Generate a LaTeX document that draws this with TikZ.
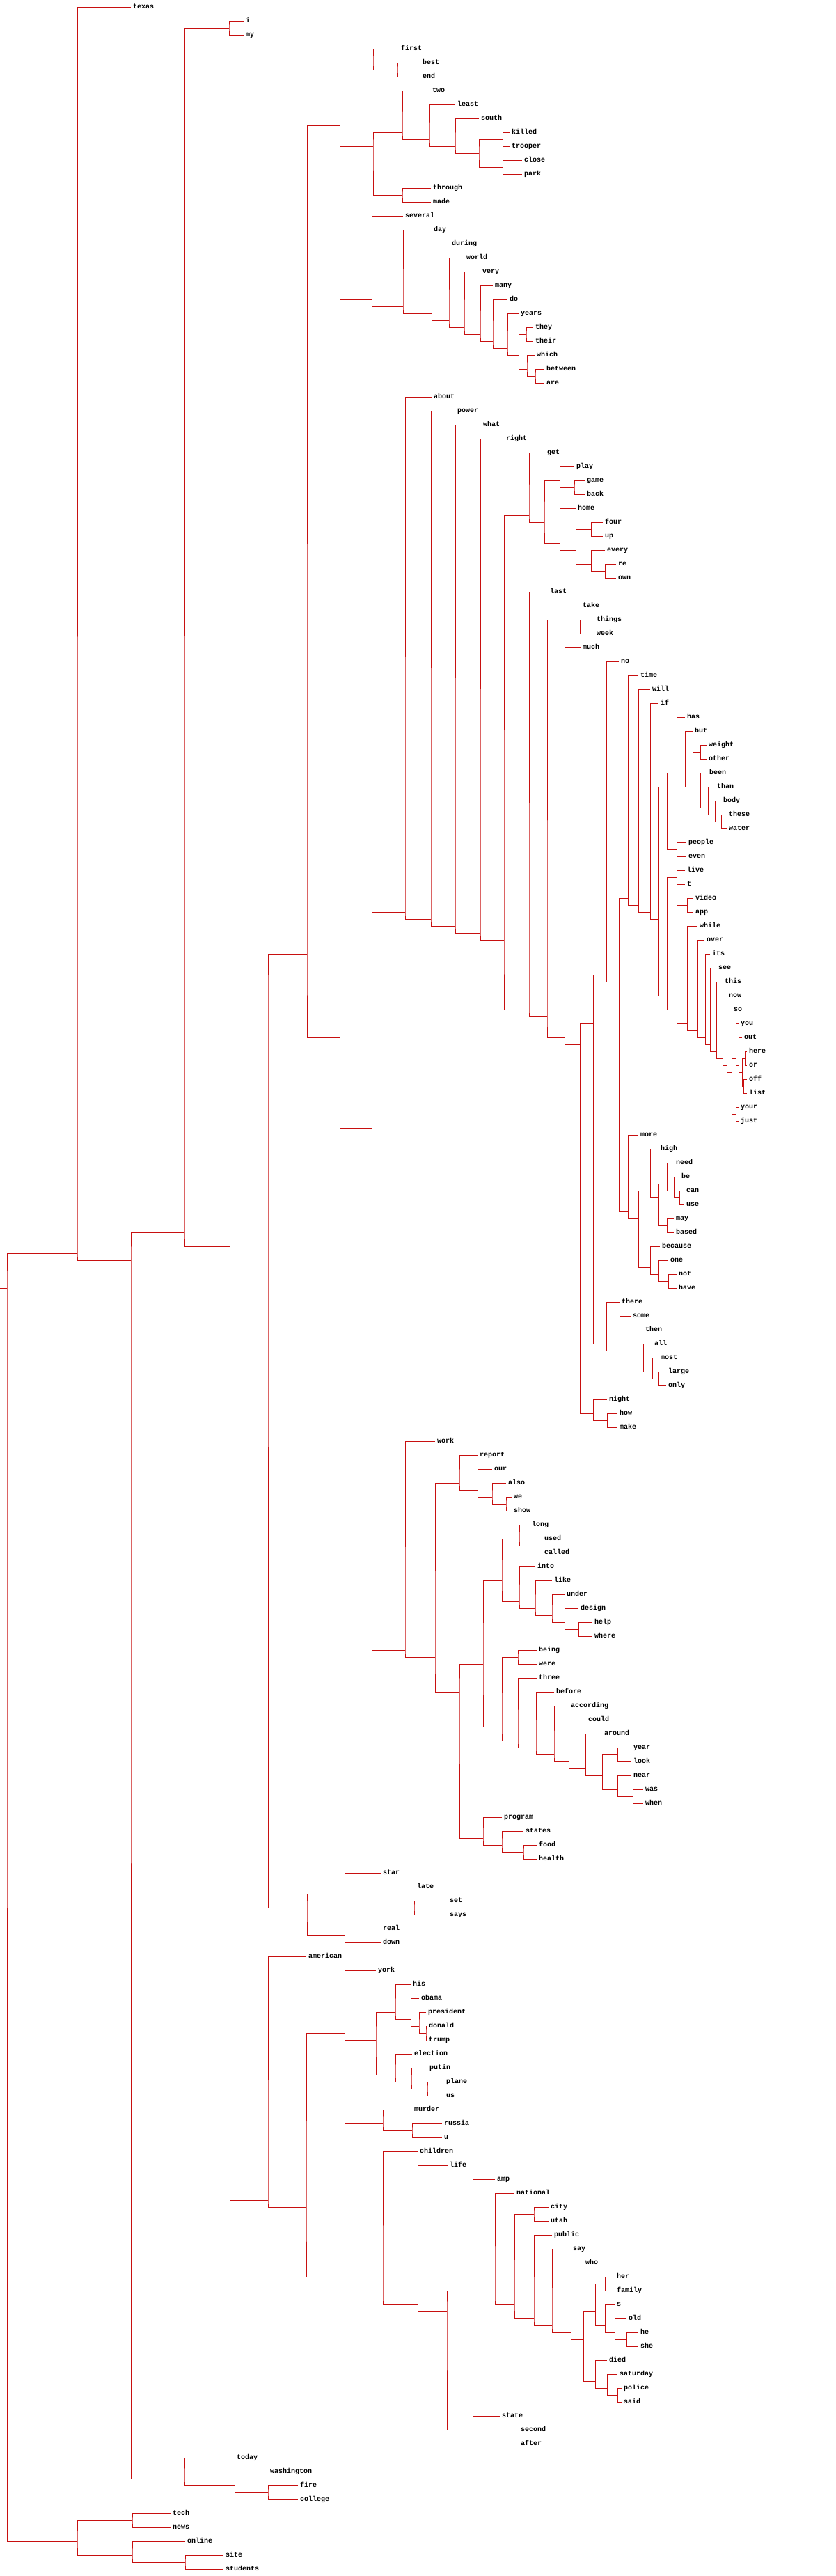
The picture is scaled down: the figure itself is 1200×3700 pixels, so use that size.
\documentclass[tikz,border=0pt]{standalone}
\usepackage{fontspec}
\setmonofont{Liberation Mono}
\usepackage{xcolor}
\definecolor{treered}{RGB}{200,16,16}
\tikzset{
  branch/.style={draw=treered, line width=1pt},
  word/.style={anchor=base west, inner xsep=3pt, inner ysep=0pt, yshift=-2.5pt,
    font=\ttfamily\bfseries\fontsize{10}{12}\selectfont}
}
\newcounter{leafno}
% leaf: word, end of its branch
\newcommand\leafword[2]{%
  \pgfmathtruncatemacro\leafy{10+20*\theleafno}%
  \coordinate (#1) at (#2,\leafy);
  \node[word] (w-#1) at (#1) {#1};
  \expandafter\xdef\csname tp@#1\endcsname{\leafy}%
  \expandafter\xdef\csname bt@#1\endcsname{\leafy}%
  \stepcounter{leafno}}
% merge: name, x of the bar, upper child, lower child
\newcommand\mergeat[4]{%
  \expandafter\xdef\csname tp@#1\endcsname{\csname tp@#3\endcsname}%
  \expandafter\xdef\csname bt@#1\endcsname{\csname bt@#4\endcsname}%
  \pgfmathsetmacro\mergey{(\csname tp@#3\endcsname+\csname bt@#4\endcsname)/2}%
  \coordinate (#1) at (#2,\mergey);
  \draw[branch] (#3) -| (#1) |- (#4);}

\begin{document}
\begin{tikzpicture}[x=1pt, y=-1pt]
    \useasboundingbox (0,0) rectangle (1200,3700);
    \coordinate (origin) at (0,0);
    % leaves, top to bottom
    \leafword{texas}{188}
    \leafword{i}{350}
    \leafword{my}{350}
    \leafword{first}{573}
    \leafword{best}{604}
    \leafword{end}{604}
    \leafword{two}{618}
    \leafword{least}{654}
    \leafword{south}{688}
    \leafword{killed}{732}
    \leafword{trooper}{732}
    \leafword{close}{750}
    \leafword{park}{750}
    \leafword{through}{619}
    \leafword{made}{619}
    \leafword{several}{579}
    \leafword{day}{620}
    \leafword{during}{646}
    \leafword{world}{667}
    \leafword{very}{690}
    \leafword{many}{708}
    \leafword{do}{729}
    \leafword{years}{745}
    \leafword{they}{766}
    \leafword{their}{766}
    \leafword{which}{768}
    \leafword{between}{782}
    \leafword{are}{782}
    \leafword{about}{620}
    \leafword{power}{654}
    \leafword{what}{691}
    \leafword{right}{724}
    \leafword{get}{783}
    \leafword{play}{825}
    \leafword{game}{840}
    \leafword{back}{840}
    \leafword{home}{827}
    \leafword{four}{866}
    \leafword{up}{866}
    \leafword{every}{869}
    \leafword{re}{885}
    \leafword{own}{885}
    \leafword{last}{787}
    \leafword{take}{834}
    \leafword{things}{854}
    \leafword{week}{854}
    \leafword{much}{834}
    \leafword{no}{889}
    \leafword{time}{917}
    \leafword{will}{934}
    \leafword{if}{946}
    \leafword{has}{984}
    \leafword{but}{995}
    \leafword{weight}{1015}
    \leafword{other}{1015}
    \leafword{been}{1016}
    \leafword{than}{1027}
    \leafword{body}{1036}
    \leafword{these}{1044}
    \leafword{water}{1044}
    \leafword{people}{986}
    \leafword{even}{986}
    \leafword{live}{984}
    \leafword{t}{984}
    \leafword{video}{996}
    \leafword{app}{996}
    \leafword{while}{1002}
    \leafword{over}{1012}
    \leafword{its}{1020}
    \leafword{see}{1029}
    \leafword{this}{1038}
    \leafword{now}{1044}
    \leafword{so}{1051}
    \leafword{you}{1061}
    \leafword{out}{1066}
    \leafword{here}{1073}
    \leafword{or}{1073}
    \leafword{off}{1073}
    \leafword{list}{1073}
    \leafword{your}{1061}
    \leafword{just}{1061}
    \leafword{more}{917}
    \leafword{high}{946}
    \leafword{need}{968}
    \leafword{be}{976}
    \leafword{can}{983}
    \leafword{use}{983}
    \leafword{may}{968}
    \leafword{based}{968}
    \leafword{because}{948}
    \leafword{one}{960}
    \leafword{not}{972}
    \leafword{have}{972}
    \leafword{there}{890}
    \leafword{some}{906}
    \leafword{then}{924}
    \leafword{all}{937}
    \leafword{most}{946}
    \leafword{large}{957}
    \leafword{only}{957}
    \leafword{night}{872}
    \leafword{how}{887}
    \leafword{make}{887}
    \leafword{work}{625}
    \leafword{report}{686}
    \leafword{our}{707}
    \leafword{also}{727}
    \leafword{we}{735}
    \leafword{show}{735}
    \leafword{long}{761}
    \leafword{used}{779}
    \leafword{called}{779}
    \leafword{into}{769}
    \leafword{like}{793}
    \leafword{under}{811}
    \leafword{design}{831}
    \leafword{help}{851}
    \leafword{where}{851}
    \leafword{being}{771}
    \leafword{were}{771}
    \leafword{three}{771}
    \leafword{before}{796}
    \leafword{according}{817}
    \leafword{could}{842}
    \leafword{around}{865}
    \leafword{year}{907}
    \leafword{look}{907}
    \leafword{near}{907}
    \leafword{was}{924}
    \leafword{when}{924}
    \leafword{program}{721}
    \leafword{states}{752}
    \leafword{food}{771}
    \leafword{health}{771}
    \leafword{star}{547}
    \leafword{late}{596}
    \leafword{set}{643}
    \leafword{says}{643}
    \leafword{real}{547}
    \leafword{down}{547}
    \leafword{american}{440}
    \leafword{york}{540}
    \leafword{his}{590}
    \leafword{obama}{602}
    \leafword{president}{612}
    \leafword{donald}{613}
    \leafword{trump}{613}
    \leafword{election}{592}
    \leafword{putin}{614}
    \leafword{plane}{638}
    \leafword{us}{638}
    \leafword{murder}{592}
    \leafword{russia}{635}
    \leafword{u}{635}
    \leafword{children}{600}
    \leafword{life}{643}
    \leafword{amp}{711}
    \leafword{national}{739}
    \leafword{city}{788}
    \leafword{utah}{788}
    \leafword{public}{793}
    \leafword{say}{820}
    \leafword{who}{838}
    \leafword{her}{883}
    \leafword{family}{883}
    \leafword{s}{883}
    \leafword{old}{900}
    \leafword{he}{917}
    \leafword{she}{917}
    \leafword{died}{872}
    \leafword{saturday}{887}
    \leafword{police}{893}
    \leafword{said}{893}
    \leafword{state}{718}
    \leafword{second}{745}
    \leafword{after}{745}
    \leafword{today}{337}
    \leafword{washington}{385}
    \leafword{fire}{428}
    \leafword{college}{428}
    \leafword{tech}{245}
    \leafword{news}{245}
    \leafword{online}{266}
    \leafword{site}{321}
    \leafword{students}{321}
    % first .. made
    \mergeat{a1}{571}{best}{end}
    \mergeat{a2}{536}{first}{a1}
    \mergeat{a3}{722}{killed}{trooper}
    \mergeat{a4}{722}{close}{park}
    \mergeat{a5}{688}{a3}{a4}
    \mergeat{a6}{654}{south}{a5}
    \mergeat{a7}{617}{least}{a6}
    \mergeat{a8}{578}{two}{a7}
    \mergeat{a9}{578}{through}{made}
    \mergeat{a10}{536}{a8}{a9}
    \mergeat{a11}{488}{a2}{a10}
    % several .. are
    \mergeat{b1}{756}{they}{their}
    \mergeat{b2}{769}{between}{are}
    \mergeat{b3}{757}{which}{b2}
    \mergeat{b4}{745}{b1}{b3}
    \mergeat{b5}{729}{years}{b4}
    \mergeat{b6}{708}{do}{b5}
    \mergeat{b7}{690}{many}{b6}
    \mergeat{b8}{667}{very}{b7}
    \mergeat{b9}{645}{world}{b8}
    \mergeat{b10}{620}{during}{b9}
    \mergeat{b11}{579}{day}{b10}
    \mergeat{b12}{534}{several}{b11}
    % about .. make
    \mergeat{c1}{825}{game}{back}
    \mergeat{c2}{804}{play}{c1}
    \mergeat{c3}{849}{four}{up}
    \mergeat{c4}{869}{re}{own}
    \mergeat{c5}{849}{every}{c4}
    \mergeat{c6}{827}{c3}{c5}
    \mergeat{c7}{804}{home}{c6}
    \mergeat{c8}{782}{c2}{c7}
    \mergeat{c9}{760}{get}{c8}
    \mergeat{c10}{833}{things}{week}
    \mergeat{c11}{811}{take}{c10}
    \mergeat{d1}{1006}{weight}{other}
    \mergeat{d2}{1036}{these}{water}
    \mergeat{d3}{1027}{body}{d2}
    \mergeat{d4}{1017}{than}{d3}
    \mergeat{d5}{1006}{been}{d4}
    \mergeat{d6}{995}{d1}{d5}
    \mergeat{d7}{984}{but}{d6}
    \mergeat{d8}{972}{has}{d7}
    \mergeat{d9}{972}{people}{even}
    \mergeat{d10}{958}{d8}{d9}
    \mergeat{d11}{972}{live}{t}
    \mergeat{d12}{987}{video}{app}
    \mergeat{e1}{1070}{here}{or}
    \mergeat{e2}{1068}{off}{list}
    \mergeat{e3}{1066}{e1}{e2}
    \mergeat{e4}{1061}{out}{e3}
    \mergeat{e5}{1057}{you}{e4}
    \mergeat{e6}{1057}{your}{just}
    \mergeat{e7}{1051}{e5}{e6}
    \mergeat{e8}{1044}{so}{e7}
    \mergeat{e9}{1038}{now}{e8}
    \mergeat{e10}{1029}{this}{e9}
    \mergeat{e11}{1020}{see}{e10}
    \mergeat{e12}{1013}{its}{e11}
    \mergeat{e13}{1002}{over}{e12}
    \mergeat{e14}{987}{while}{e13}
    \mergeat{e15}{972}{d12}{e14}
    \mergeat{e16}{958}{d11}{e15}
    \mergeat{e17}{946}{d10}{e16}
    \mergeat{e18}{934}{if}{e17}
    \mergeat{e19}{917}{will}{e18}
    \mergeat{e20}{902}{time}{e19}
    \mergeat{f1}{976}{can}{use}
    \mergeat{f2}{968}{be}{f1}
    \mergeat{f3}{958}{need}{f2}
    \mergeat{f4}{958}{may}{based}
    \mergeat{f5}{946}{f3}{f4}
    \mergeat{f6}{934}{high}{f5}
    \mergeat{f7}{960}{not}{have}
    \mergeat{f8}{946}{one}{f7}
    \mergeat{f9}{934}{because}{f8}
    \mergeat{f10}{917}{f6}{f9}
    \mergeat{f11}{902}{more}{f10}
    \mergeat{f12}{889}{e20}{f11}
    \mergeat{f13}{871}{no}{f12}
    \mergeat{g1}{946}{large}{only}
    \mergeat{g2}{937}{most}{g1}
    \mergeat{g3}{924}{all}{g2}
    \mergeat{g4}{906}{then}{g3}
    \mergeat{g5}{890}{some}{g4}
    \mergeat{g6}{871}{there}{g5}
    \mergeat{g7}{852}{f13}{g6}
    \mergeat{g8}{872}{how}{make}
    \mergeat{g9}{852}{night}{g8}
    \mergeat{g10}{833}{g7}{g9}
    \mergeat{g11}{811}{much}{g10}
    \mergeat{g12}{786}{c11}{g11}
    \mergeat{g13}{760}{last}{g12}
    \mergeat{g14}{724}{c9}{g13}
    \mergeat{g15}{690}{right}{g14}
    \mergeat{g16}{654}{what}{g15}
    \mergeat{g17}{619}{power}{g16}
    \mergeat{g18}{582}{about}{g17}
    % work .. health
    \mergeat{h1}{727}{we}{show}
    \mergeat{h2}{707}{also}{h1}
    \mergeat{h3}{686}{our}{h2}
    \mergeat{h4}{660}{report}{h3}
    \mergeat{h5}{761}{used}{called}
    \mergeat{h6}{746}{long}{h5}
    \mergeat{h7}{831}{help}{where}
    \mergeat{h8}{811}{design}{h7}
    \mergeat{h9}{793}{under}{h8}
    \mergeat{h10}{769}{like}{h9}
    \mergeat{h11}{746}{into}{h10}
    \mergeat{h12}{721}{h6}{h11}
    \mergeat{i1}{744}{being}{were}
    \mergeat{i2}{887}{year}{look}
    \mergeat{i3}{909}{was}{when}
    \mergeat{i4}{887}{near}{i3}
    \mergeat{i5}{865}{i2}{i4}
    \mergeat{i6}{841}{around}{i5}
    \mergeat{i7}{817}{could}{i6}
    \mergeat{i8}{796}{according}{i7}
    \mergeat{i9}{770}{before}{i8}
    \mergeat{i10}{744}{three}{i9}
    \mergeat{i11}{721}{i1}{i10}
    \mergeat{i12}{694}{h12}{i11}
    \mergeat{j1}{752}{food}{health}
    \mergeat{j2}{721}{states}{j1}
    \mergeat{j3}{694}{program}{j2}
    \mergeat{j4}{660}{i12}{j3}
    \mergeat{j5}{625}{h4}{j4}
    \mergeat{j6}{582}{work}{j5}
    \mergeat{j7}{534}{g18}{j6}
    \mergeat{j8}{488}{b12}{j7}
    \mergeat{j9}{441}{a11}{j8}
    % star .. down
    \mergeat{k1}{595}{set}{says}
    \mergeat{k2}{547}{late}{k1}
    \mergeat{k3}{495}{star}{k2}
    \mergeat{k4}{495}{real}{down}
    \mergeat{k5}{441}{k3}{k4}
    \mergeat{k6}{385}{j9}{k5}
    % american .. after
    \mergeat{m1}{612}{donald}{trump}
    \mergeat{m2}{602}{president}{m1}
    \mergeat{m3}{590}{obama}{m2}
    \mergeat{m4}{568}{his}{m3}
    \mergeat{m5}{614}{plane}{us}
    \mergeat{m6}{591}{putin}{m5}
    \mergeat{m7}{568}{election}{m6}
    \mergeat{m8}{540}{m4}{m7}
    \mergeat{m9}{495}{york}{m8}
    \mergeat{m10}{592}{russia}{u}
    \mergeat{m11}{550}{murder}{m10}
    \mergeat{p1}{767}{city}{utah}
    \mergeat{p2}{869}{her}{family}
    \mergeat{p3}{900}{he}{she}
    \mergeat{p4}{883}{old}{p3}
    \mergeat{p5}{869}{s}{p4}
    \mergeat{p6}{855}{p2}{p5}
    \mergeat{p7}{887}{police}{said}
    \mergeat{p8}{872}{saturday}{p7}
    \mergeat{p9}{855}{died}{p8}
    \mergeat{p10}{838}{p6}{p9}
    \mergeat{p11}{820}{who}{p10}
    \mergeat{p12}{793}{say}{p11}
    \mergeat{p13}{767}{public}{p12}
    \mergeat{p14}{739}{p1}{p13}
    \mergeat{p15}{711}{national}{p14}
    \mergeat{p16}{679}{amp}{p15}
    \mergeat{p17}{718}{second}{after}
    \mergeat{p18}{679}{state}{p17}
    \mergeat{p19}{642}{p16}{p18}
    \mergeat{p20}{600}{life}{p19}
    \mergeat{p21}{550}{children}{p20}
    \mergeat{p22}{495}{m11}{p21}
    \mergeat{p23}{440}{m9}{p22}
    \mergeat{p24}{385}{american}{p23}
    \mergeat{p25}{330}{k6}{p24}
    % top levels
    \mergeat{q1}{329}{i}{my}
    \mergeat{q2}{265}{q1}{p25}
    \mergeat{q3}{385}{fire}{college}
    \mergeat{q4}{337}{washington}{q3}
    \mergeat{q5}{265}{today}{q4}
    \mergeat{q6}{188}{q2}{q5}
    \mergeat{q7}{111}{texas}{q6}
    \mergeat{r1}{190}{tech}{news}
    \mergeat{r2}{266}{site}{students}
    \mergeat{r3}{190}{online}{r2}
    \mergeat{r4}{111}{r1}{r3}
    \mergeat{root}{10}{q7}{r4}
    \draw[branch] (root) -- (root -| origin);
\end{tikzpicture}
\end{document}
